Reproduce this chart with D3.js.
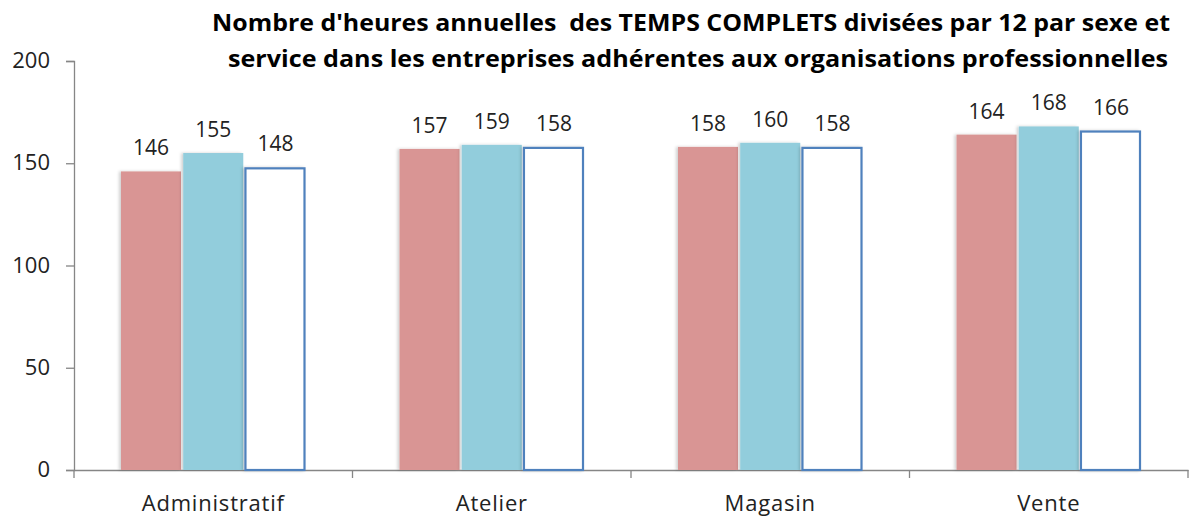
<!DOCTYPE html>
<html>
<head>
<meta charset="utf-8">
<script src="https://cdn.jsdelivr.net/npm/d3@7"></script>
<style>
  html, body { margin: 0; padding: 0; background: #fff; }
  svg { display: block; }
</style>
</head>
<body>
<svg id="chart" width="1189" height="519"></svg>
<script>
// Services and monthly hours (annual hours / 12) per series
const categories = ["Administratif", "Atelier", "Magasin", "Vente"];
const seriesNames = ["Femmes", "Hommes", "Ensemble"];
const femmes   = [146, 157, 158, 164];
const hommes   = [155, 159, 160, 168];
const ensemble = [148, 158, 158, 166];
const yTicks = [0, 50, 100, 150, 200];
const titleLines = [
  "Nombre d'heures annuelles  des TEMPS COMPLETS divisées par 12 par sexe et",
  "service dans les entreprises adhérentes aux organisations professionnelles"
];

const seriesValues = [femmes, hommes, ensemble];
const fills   = ["#D99594", "#92CDDC", "#FFFFFF"];
const strokes = ["none", "none", "#4F81BD"];

const svg = d3.select("#chart");
const margin = { left: 74, right: 1, top: 61, bottom: 49 };
const W = 1189, H = 519;
const plotBottom = H - margin.bottom; // 470

const x = d3.scaleBand().domain(categories).range([margin.left, W - margin.right]).paddingInner(0).paddingOuter(0);
const y = d3.scaleLinear().domain([0, 200]).range([plotBottom, margin.top]);
const groupPad = 47;
const xs = d3.scaleBand().domain(seriesNames)
  .range([groupPad, x.bandwidth() - groupPad]).paddingInner(0.035);

const font = "Candara, 'Open Sans', 'DejaVu Sans', sans-serif";

// soft shadow under bars
const defs = svg.append("defs");
const f = defs.append("filter").attr("id", "shadow").attr("x", "-10%").attr("y", "-10%").attr("width", "120%").attr("height", "120%");
f.append("feDropShadow").attr("dx", -2).attr("dy", 0).attr("stdDeviation", 1.5)
  .attr("flood-color", "#000").attr("flood-opacity", 0.18);

// Y axis
const yAxis = d3.axisLeft(y).tickValues(yTicks).tickSize(8).tickPadding(16);
const gy = svg.append("g").attr("transform", `translate(${margin.left},0)`).call(yAxis);
gy.select(".domain").attr("stroke", "#868686").attr("stroke-width", 1.3);
gy.selectAll(".tick line").attr("stroke", "#868686").attr("stroke-width", 1.3);
gy.selectAll(".tick text").attr("font-family", font).attr("font-size", 22).attr("fill", "#222")
  .attr("dy", "0.3em");

// X axis (drawn before the bars so the outlined bar's bottom edge stays visible)
const xAxis = d3.axisBottom(x).tickSize(0).tickPadding(12);
const gx = svg.append("g").attr("transform", `translate(0,${plotBottom})`).call(xAxis);
gx.select(".domain").attr("stroke", "#868686").attr("stroke-width", 1.3);
gx.selectAll(".tick text").attr("font-family", font).attr("font-size", 22).attr("fill", "#222")
  .attr("y", 41).attr("dy", 0).attr("letter-spacing", 0.8);
// boundary ticks between categories
const bounds = categories.map(c => x(c)).concat([x(categories[categories.length - 1]) + x.bandwidth()]);
gx.selectAll("line.bound").data(bounds).join("line").attr("class", "bound")
  .attr("x1", d => d).attr("x2", d => d).attr("y1", 0).attr("y2", 8)
  .attr("stroke", "#868686").attr("stroke-width", 1.3);

// Bars
const groups = svg.append("g").selectAll("g").data(categories).join("g")
  .attr("transform", d => `translate(${x(d)},0)`);

seriesNames.forEach((s, si) => {
  groups.append("rect")
    .attr("x", (d, i) => xs(s))
    .attr("y", (d, i) => y(seriesValues[si][i]) + (si === 2 ? 1 : 0))
    .attr("width", xs.bandwidth() - (si === 2 ? 1 : 0))
    .attr("height", (d, i) => plotBottom - y(seriesValues[si][i]) - (si === 2 ? 1 : 0))
    .attr("fill", fills[si])
    .attr("stroke", strokes[si])
    .attr("stroke-width", si === 2 ? 2.2 : 0)
    .attr("filter", "url(#shadow)");
  groups.append("text")
    .attr("x", (d, i) => xs(s) + xs.bandwidth() / 2)
    .attr("y", (d, i) => y(seriesValues[si][i]) - 16)
    .attr("text-anchor", "middle")
    .attr("font-family", font).attr("font-size", 21).attr("fill", "#222")
    .text((d, i) => seriesValues[si][i]);
});

// Title
const titleW = [958, 940];
const titleRight = [1170, 1168];
const titleY = [31, 67];
titleLines.forEach((t, i) => {
  svg.append("text")
    .attr("x", titleRight[i] - titleW[i]).attr("y", titleY[i])
    .attr("font-family", "'Open Sans', 'DejaVu Sans', sans-serif")
    .attr("font-weight", "bold").attr("font-size", 23).attr("fill", "#000")
    .style("white-space", "pre")
    .attr("textLength", titleW[i]).attr("lengthAdjust", "spacingAndGlyphs")
    .text(t);
});
</script>
</body>
</html>
